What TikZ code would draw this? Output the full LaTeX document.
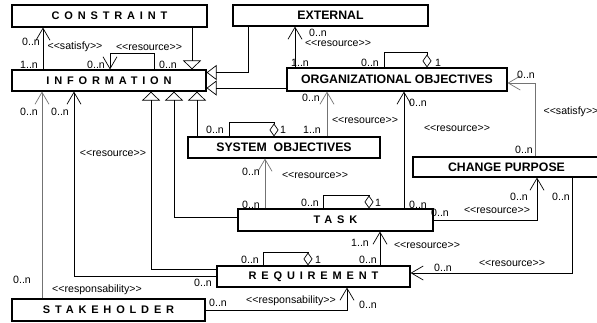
\documentclass[tikz,border=0pt]{standalone}
\usepackage{fontspec}
\setmainfont{Liberation Sans}[Ligatures=TeXOff]
\usetikzlibrary{arrows.meta}
\newcommand\titlefont{\fontsize{12.3}{14}\selectfont\bfseries}
\newcommand\spacedfont{\fontsize{11}{13}\selectfont\bfseries\addfontfeature{LetterSpace=44}}
\newcommand\lblfont{\fontsize{10.6}{12}\selectfont}
\begin{document}
\begin{tikzpicture}[x=1pt,y=-1pt,
  box/.style={draw, line width=1.1pt, inner sep=0pt, font=\titlefont},
  sbox/.style={box, font=\spacedfont},
  lbl/.style={font=\lblfont, inner sep=0pt},
  conn/.style={line width=0.7pt},
  greyconn/.style={draw=black!55},
  assoc/.style={conn, -{Straight Barb[length=12pt,width=14pt]}},
  gen/.style={conn, -{Triangle[open,length=9pt,width=18pt]}},
  genside/.style={conn, -{Triangle[open,length=10pt,width=15pt]}},
  agg/.style={conn, -{Diamond[open,length=13pt,width=9pt]}}]
\useasboundingbox (0,0) rectangle (597,322);
% boxes
\node[sbox, minimum width=195pt, minimum height=22pt] (CON) at (109.5,16) {CONSTRAINT};
\node[box, minimum width=195pt, minimum height=21pt] (EXT) at (330.5,15.5) {EXTERNAL};
\node[sbox, minimum width=194pt, minimum height=21pt] (INFO) at (109,80.5) {INFORMATION};
\node[box, minimum width=220pt, minimum height=23pt] (ORG) at (397,79.5) {ORGANIZATIONAL OBJECTIVES};
\node[box, minimum width=192pt, minimum height=21pt] (SYS) at (284,147.5) {SYSTEM\ \ OBJECTIVES};
\node[box, minimum width=187pt, minimum height=20pt] (CP) at (506.5,167) {CHANGE PURPOSE};
\node[sbox, minimum width=195pt, minimum height=22pt] (TASK) at (335.5,220) {TASK};
\node[sbox, minimum width=193pt, minimum height=21pt] (REQ) at (313.5,276.5) {REQUIREMENT};
\node[sbox, minimum width=193pt, minimum height=22pt] (STK) at (108.5,310) {STAKEHOLDER};
% generalizations
\draw[gen] (CON.south -| 192,0) -- (INFO.north -| 192,0);
\draw[genside] (EXT.south -| 248,0) |- (INFO.east |- 0,72.5);
\draw[genside] (ORG.west |- 0,88) -- (INFO.east |- 0,88);
\draw[gen] (REQ.west |- 0,269) -| (INFO.south -| 151,0);
\draw[gen] (TASK.west |- 0,217) -| (INFO.south -| 174,0);
\draw[gen] (SYS.north -| 197,0) -- (INFO.south -| 197,0);
% aggregations
\draw[agg] (ORG.north -| 384,0) -- (384,52) -| (ORG.north -| 427,0);
\draw[agg] (SYS.north -| 229,0) -- (229,122) -| (SYS.north -| 274,0);
\draw[agg] (TASK.north -| 323,0) -- (323,195) -| (TASK.north -| 369,0);
\draw[agg] (REQ.north -| 263,0) -- (263,252) -| (REQ.north -| 308,0);
% associations
\draw[assoc] (INFO.north -| 43,0) -- (CON.south -| 43,0);
\draw[assoc] (INFO.north -| 154,0) -- (154,53) -| (INFO.north -| 110,0);
\draw[assoc] (ORG.north -| 295,0) -- (EXT.south -| 295,0);
\draw[assoc, greyconn] (CP.north -| 535,0) |- (ORG.east |- 0,83);
\draw[assoc, greyconn] (SYS.north -| 327,0) -- (ORG.south -| 327,0);
\draw[assoc] (TASK.north -| 404,0) -- (ORG.south -| 404,0);
\draw[assoc, greyconn] (TASK.north -| 265,0) -- (SYS.south -| 265,0);
\draw[assoc] (TASK.east) -| (CP.south -| 537,0);
\draw[assoc] (CP.south -| 572,0) |- (REQ.east |- 0,273);
\draw[assoc] (REQ.north -| 380,0) -- (TASK.south -| 380,0);
\draw[assoc] (REQ.west |- 0,276) -| (INFO.south -| 74,0);
\draw[assoc, greyconn] (STK.north -| 42,0) -- (INFO.south -| 42,0);
\draw[assoc] (STK.east) -| (REQ.south -| 347,0);
% labels
\node[lbl] (l1) at (31,42) {0..n};
\node[lbl] (l2) at (29,65) {1..n};
\node[lbl] (l3) at (75,47) {<<satisfy>>};
\node[lbl] (l4) at (149,47) {<<resource>>};
\node[lbl] (l5) at (96,65) {0..n};
\node[lbl] (l6) at (168,65) {0..n};
\node[lbl] (l7) at (318,33) {0..n};
\node[lbl] (l8) at (338,43) {<<resource>>};
\node[lbl] (l9) at (300,63) {1..n};
\node[lbl] (l10) at (370,63) {0..n};
\node[lbl] (l11) at (438,63) {1};
\node[lbl] (l12) at (526,75) {0..n};
\node[lbl] (l13) at (524,150) {0..n};
\node[lbl] (l14) at (571,112) {<<satisfy>>};
\node[lbl] (l15) at (311,98) {0..n};
\node[lbl] (l16) at (312,130) {1..n};
\node[lbl] (l17) at (365,120) {<<resource>>};
\node[lbl] (l18) at (418,103) {0..n};
\node[lbl] (l19) at (457,128) {<<resource>>};
\node[lbl] (l20) at (418,205) {0..n};
\node[lbl] (l21) at (215,130) {0..n};
\node[lbl] (l22) at (283,130) {1};
\node[lbl] (l23) at (251,172) {0..n};
\node[lbl] (l24) at (315,175) {<<resource>>};
\node[lbl] (l25) at (251,205) {0..n};
\node[lbl] (l26) at (310,203) {0..n};
\node[lbl] (l27) at (378,203) {1};
\node[lbl] (l28) at (440,213) {0..n};
\node[lbl] (l29) at (497,210) {<<resource>>};
\node[lbl] (l30) at (519,197) {0..n};
\node[lbl] (l31) at (561,197) {0..n};
\node[lbl] (l32) at (443,268) {0..n};
\node[lbl] (l33) at (512,263) {<<resource>>};
\node[lbl] (l34) at (360,243) {1..n};
\node[lbl] (l35) at (427,245) {<<resource>>};
\node[lbl] (l36) at (368,260) {0..n};
\node[lbl] (l37) at (250,260) {0..n};
\node[lbl] (l38) at (318,260) {1};
\node[lbl] (l39) at (29,112) {0..n};
\node[lbl] (l40) at (60,112) {0..n};
\node[lbl] (l41) at (113,153) {<<resource>>};
\node[lbl] (l42) at (203,283) {0..n};
\node[lbl] (l43) at (22,280) {0..n};
\node[lbl] (l44) at (97,290) {<<responsability>>};
\node[lbl] (l45) at (218,303) {0..n};
\node[lbl] (l46) at (291,301) {<<responsability>>};
\node[lbl] (l47) at (368,305) {0..n};
\end{tikzpicture}
\end{document}
